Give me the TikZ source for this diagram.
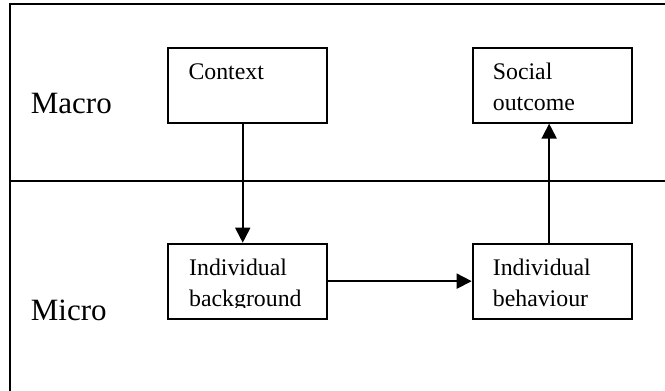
\documentclass[tikz,border=0pt]{standalone}
\usepackage{fontspec}
\setmainfont{Liberation Serif}
\usetikzlibrary{arrows.meta}
\tikzset{
  every picture/.style={x=1bp,y=-1bp},
  box/.style={draw,line width=1.9bp,minimum width=159bp,minimum height=75bp,inner sep=0pt,anchor=north west},
  % base anchor of a multi-line node sits on its last line
  boxtext/.style={anchor=base west,inner sep=0pt,align=left,
    font=\fontsize{23.8bp}{31bp}\selectfont},
  level/.style={anchor=base west,inner sep=0pt,font=\fontsize{31bp}{36bp}\selectfont},
  link/.style={line width=1.8bp,-{Triangle[length=15bp,width=15bp]}},
  frame/.style={line width=1.9bp}
}
\begin{document}
\begin{tikzpicture}
\useasboundingbox (0,0) rectangle (665,390);
% open frame and the macro/micro divider
\draw[frame] (10,400) -- (10,4) -- (670,4);
\draw[frame] (10,180.7) -- (670,180.7);

% level labels
\node[level] (macro) at (30.7,113) {Macro};
\node[level] (micro) at (30.7,320) {Micro};

% boxes
\node[box] (ctx) at (167.3,46.7) {};
\node[box] (soc) at (471.7,46.7) {};
\node[box] (bg)  at (167.3,242.7) {};
\node[box] (beh) at (471.7,242.7) {};

% box texts
\node[boxtext] (ctxt) at (188.3,79.3) {Context};
\node[boxtext] (soct) at (492.7,110.5) {Social\\outcome};
\begin{scope}
  \clip (167.3,242.7) rectangle (326.7,307.6);
  \node[boxtext] (bgt) at (189,306.7) {Individual\\background};
\end{scope}
\node[boxtext] (beht) at (492.7,306.7) {Individual\\behaviour};

% causal links
\draw[link] ([xshift=-5bp]ctx.south) -- ([xshift=-5bp]bg.north);
\draw[link] (bg.east) -- (beh.west);
\draw[link] ([xshift=-3bp]beh.north) -- ([xshift=-3bp]soc.south);
\end{tikzpicture}
\end{document}
